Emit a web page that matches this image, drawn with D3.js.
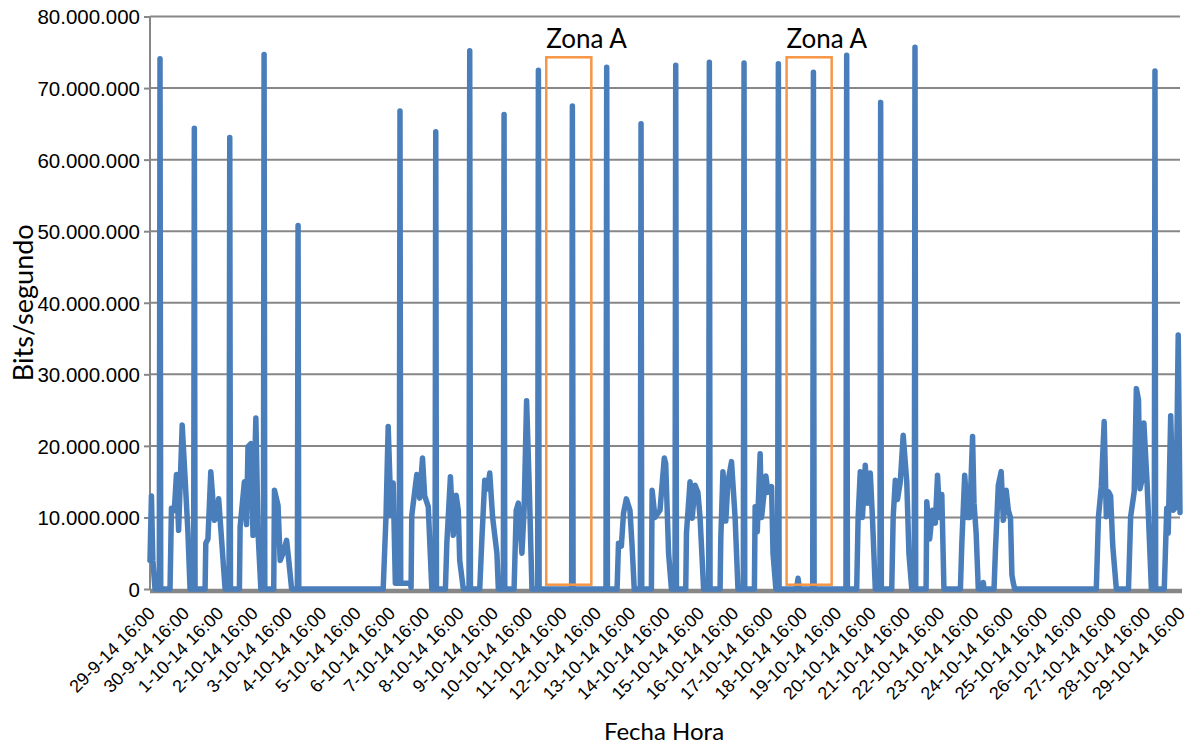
<!DOCTYPE html>
<html>
<head>
<meta charset="utf-8">
<script src="https://cdn.jsdelivr.net/npm/d3@7"></script>
<style>
  html, body { margin: 0; padding: 0; background: #fff; }
  svg { display: block; font-family: Lato, "Open Sans", sans-serif; }
</style>
</head>
<body>
<svg id="chart" width="1190" height="747"></svg>
<script>
// Etiquetas del eje X (una por día, a las 16:00)
const etiquetasX = [
  "29-9-14 16:00", "30-9-14 16:00", "1-10-14 16:00", "2-10-14 16:00", "3-10-14 16:00",
  "4-10-14 16:00", "5-10-14 16:00", "6-10-14 16:00", "7-10-14 16:00", "8-10-14 16:00",
  "9-10-14 16:00", "10-10-14 16:00", "11-10-14 16:00", "12-10-14 16:00", "13-10-14 16:00",
  "14-10-14 16:00", "15-10-14 16:00", "16-10-14 16:00", "17-10-14 16:00", "18-10-14 16:00",
  "19-10-14 16:00", "20-10-14 16:00", "21-10-14 16:00", "22-10-14 16:00", "23-10-14 16:00",
  "24-10-14 16:00", "25-10-14 16:00", "26-10-14 16:00", "27-10-14 16:00", "28-10-14 16:00",
  "29-10-14 16:00"
];

// Marcas del eje Y, en millones de bits/segundo
const valoresY = [0, 10, 20, 30, 40, 50, 60, 70, 80];

// Tráfico medido: [día-mes hora, millones de bits/segundo]
const semana1 = [
  ["29-9 16:00", 4], ["29-9 17:00", 13], ["29-9 18:00", 4], ["29-9 19:30", 0],
  ["29-9 22:30", 0], ["29-9 23:00", 74.1], ["29-9 23:30", 0],
  ["30-9 06:00", 0], ["30-9 07:00", 11.3], ["30-9 09:00", 11], ["30-9 10:30", 16], ["30-9 12:00", 8.2],
  ["30-9 14:30", 22.9], ["30-9 16:30", 15.6], ["30-9 18:30", 8], ["30-9 20:00", 0],
  ["30-9 22:30", 0], ["30-9 23:00", 64.4], ["30-9 23:30", 0],
  ["1-10 06:30", 0], ["1-10 07:00", 6.4], ["1-10 08:30", 7], ["1-10 10:30", 16.4], ["1-10 13:00", 9.6],
  ["1-10 14:30", 10], ["1-10 16:00", 12.6], ["1-10 18:00", 7], ["1-10 20:30", 0],
  ["1-10 23:15", 0], ["1-10 23:45", 63.1], ["2-10 00:15", 0],
  ["2-10 06:30", 0], ["2-10 07:00", 8.7], ["2-10 10:00", 15], ["2-10 11:30", 9], ["2-10 12:30", 19.9],
  ["2-10 14:30", 20.3], ["2-10 16:00", 7.5], ["2-10 18:00", 23.9], ["2-10 19:30", 8], ["2-10 21:30", 0],
  ["2-10 23:15", 0], ["2-10 23:45", 74.7], ["3-10 00:15", 0],
  ["3-10 06:30", 0], ["3-10 07:00", 13.8], ["3-10 09:30", 11.7], ["3-10 11:00", 4], ["3-10 13:00", 5],
  ["3-10 15:30", 6.8], ["3-10 17:00", 4], ["3-10 19:00", 0],
  ["3-10 23:00", 0], ["3-10 23:30", 50.8], ["4-10 00:00", 0]
];

const semana2 = [
  ["6-10 11:00", 0], ["6-10 13:00", 10.3], ["6-10 14:30", 22.7], ["6-10 16:30", 10.3], ["6-10 18:00", 14.8],
  ["6-10 19:30", 0.8], ["6-10 22:15", 0.8], ["6-10 22:45", 66.8], ["6-10 23:15", 0.8],
  ["7-10 06:00", 0.8], ["7-10 06:30", 0.2], ["7-10 07:00", 10.3], ["7-10 10:30", 16], ["7-10 12:30", 12.7],
  ["7-10 14:30", 18.3], ["7-10 16:00", 13], ["7-10 18:30", 11.5], ["7-10 21:00", 0],
  ["7-10 23:15", 0], ["7-10 23:45", 63.9], ["8-10 00:15", 0],
  ["8-10 06:30", 0], ["8-10 07:30", 6.4], ["8-10 10:00", 15.7], ["8-10 12:00", 7.5], ["8-10 14:00", 13.1],
  ["8-10 15:30", 11], ["8-10 16:30", 4], ["8-10 19:00", 0],
  ["8-10 23:00", 0], ["8-10 23:30", 75.2], ["9-10 00:00", 0],
  ["9-10 06:30", 0], ["9-10 08:00", 7], ["9-10 10:00", 15.2], ["9-10 12:00", 14], ["9-10 13:30", 16.2],
  ["9-10 15:30", 10], ["9-10 18:30", 5], ["9-10 19:30", 0],
  ["9-10 23:00", 0], ["9-10 23:30", 66.3], ["10-10 00:00", 0],
  ["10-10 06:30", 0], ["10-10 08:00", 11], ["10-10 09:30", 12], ["10-10 12:00", 5], ["10-10 13:30", 11],
  ["10-10 15:15", 26.3], ["10-10 17:00", 15], ["10-10 19:00", 0],
  ["10-10 23:00", 0], ["10-10 23:30", 72.5], ["11-10 00:00", 0],
  ["11-10 22:45", 0], ["11-10 23:15", 67.5], ["11-10 23:45", 0],
  ["12-10 22:45", 0], ["12-10 23:15", 72.9], ["12-10 23:45", 0]
];

const semana3 = [
  ["13-10 06:30", 0], ["13-10 07:30", 6.4], ["13-10 09:30", 6], ["13-10 11:00", 10.6], ["13-10 13:00", 12.6],
  ["13-10 15:30", 11], ["13-10 17:00", 6], ["13-10 18:30", 0],
  ["13-10 22:45", 0], ["13-10 23:15", 65], ["13-10 23:45", 0],
  ["14-10 06:30", 0], ["14-10 07:00", 13.8], ["14-10 09:00", 10], ["14-10 12:30", 11], ["14-10 15:30", 18.3],
  ["14-10 16:30", 17.5], ["14-10 18:30", 5], ["14-10 20:30", 0],
  ["14-10 23:00", 0], ["14-10 23:30", 73.2], ["15-10 00:00", 0],
  ["15-10 06:30", 0], ["15-10 07:00", 7.8], ["15-10 09:30", 15], ["15-10 11:00", 9.9], ["15-10 13:00", 14.5],
  ["15-10 15:00", 13.5], ["15-10 16:30", 10], ["15-10 19:00", 0],
  ["15-10 22:30", 0], ["15-10 23:00", 73.6], ["15-10 23:30", 0],
  ["16-10 06:30", 0], ["16-10 07:00", 7], ["16-10 08:30", 16.4], ["16-10 10:30", 9.5], ["16-10 12:00", 15],
  ["16-10 14:30", 17.8], ["16-10 17:00", 10], ["16-10 19:00", 0],
  ["16-10 22:45", 0], ["16-10 23:15", 73.5], ["16-10 23:45", 0],
  ["17-10 06:30", 0], ["17-10 07:00", 11.5], ["17-10 08:30", 8], ["17-10 10:30", 18.9], ["17-10 11:30", 10],
  ["17-10 14:30", 15.8], ["17-10 16:00", 13.5], ["17-10 18:30", 14.3], ["17-10 19:30", 5], ["17-10 21:30", 0],
  ["17-10 22:45", 0], ["17-10 23:15", 73.4], ["17-10 23:45", 0],
  ["18-10 12:00", 0], ["18-10 13:00", 1.5], ["18-10 14:00", 0],
  ["18-10 23:15", 0], ["18-10 23:45", 72.2], ["19-10 00:15", 0],
  ["19-10 22:30", 0], ["19-10 23:00", 74.6], ["19-10 23:30", 0]
];

const semana4 = [
  ["20-10 06:00", 0], ["20-10 07:00", 10], ["20-10 08:30", 16.4], ["20-10 10:00", 10], ["20-10 12:00", 17.3],
  ["20-10 13:30", 12], ["20-10 15:30", 16.2], ["20-10 17:00", 10], ["20-10 19:00", 0],
  ["20-10 22:15", 0], ["20-10 22:45", 68], ["20-10 23:15", 0],
  ["21-10 06:30", 0], ["21-10 07:30", 10], ["21-10 09:00", 15.2], ["21-10 10:30", 12.5], ["21-10 12:30", 15],
  ["21-10 14:30", 21.5], ["21-10 17:00", 15], ["21-10 18:30", 5], ["21-10 20:30", 0],
  ["21-10 22:15", 0], ["21-10 22:45", 75.7], ["21-10 23:15", 0],
  ["22-10 06:30", 0], ["22-10 07:00", 12.2], ["22-10 09:00", 7], ["22-10 11:00", 11], ["22-10 13:00", 9.2],
  ["22-10 14:30", 15.9], ["22-10 16:00", 10], ["22-10 17:30", 13.2], ["22-10 19:00", 0],
  ["23-10 06:30", 0], ["23-10 07:30", 6.4], ["23-10 09:30", 15.9], ["23-10 11:30", 10], ["23-10 13:00", 10],
  ["23-10 15:00", 21.3], ["23-10 16:00", 12], ["23-10 17:30", 7.8], ["23-10 19:00", 0],
  ["23-10 22:00", 0], ["23-10 22:30", 0.9], ["23-10 23:00", 0],
  ["24-10 06:00", 0], ["24-10 07:00", 5.5], ["24-10 09:00", 14.5], ["24-10 11:00", 16.4], ["24-10 12:30", 9.6],
  ["24-10 14:30", 13.8], ["24-10 16:00", 11], ["24-10 17:30", 10], ["24-10 18:30", 2], ["24-10 19:30", 0.8],
  ["24-10 20:30", 0]
];

const semana5 = [
  ["27-10 05:30", 0], ["27-10 07:00", 10.1], ["27-10 09:00", 14.3], ["27-10 11:00", 23.4], ["27-10 12:30", 10.1],
  ["27-10 14:00", 13.6], ["27-10 15:30", 13], ["27-10 17:00", 6], ["27-10 19:30", 0],
  ["28-10 04:00", 0], ["28-10 05:30", 10.1], ["28-10 08:00", 13.6], ["28-10 09:30", 28], ["28-10 11:00", 26.4],
  ["28-10 12:00", 14], ["28-10 13:30", 15.3], ["28-10 14:45", 23.2], ["28-10 17:00", 14.8], ["28-10 20:00", 0],
  ["28-10 22:00", 0], ["28-10 22:30", 72.4], ["28-10 23:00", 0],
  ["29-10 05:00", 0], ["29-10 06:45", 11.3], ["29-10 07:45", 7.8], ["29-10 09:30", 24.2], ["29-10 11:15", 11],
  ["29-10 13:15", 11.5], ["29-10 14:45", 35.5], ["29-10 16:00", 10.7]
];

// Zonas resaltadas (intervalo de tiempo y rango de tráfico)
const zonas = [
  { nombre: "Zona A", desde: "11-10 05:00", hasta: "12-10 12:30", min: 0.6, max: 74.3 },
  { nombre: "Zona A", desde: "18-10 05:00", hasta: "19-10 12:30", min: 0.6, max: 74.3 }
];

(function dibujar() {
  const svg = d3.select("#chart");
  const margenIzq = 150, margenDer = 1180, margenSup = 16.5, margenInf = 589;

  const parseEtiqueta = d3.utcParse("%d-%m-%y %H:%M");
  const parseMuestra = d3.utcParse("%d-%m-%Y %H:%M");
  const aFecha = s => parseMuestra(s.replace(" ", "-2014 "));

  const fechasX = etiquetasX.map(parseEtiqueta);
  const serie = [...semana1, ...semana2, ...semana3, ...semana4, ...semana5]
    .map(([f, v]) => ({ t: aFecha(f), v }));

  const x = d3.scaleUtc()
    .domain([fechasX[0], fechasX[fechasX.length - 1]])
    .range([margenIzq, margenDer]);
  const y = d3.scaleLinear().domain([0, 80]).range([margenInf, margenSup]);

  const formatoMiles = d3.formatLocale({
    decimal: ",", thousands: ".", grouping: [3], currency: ["", ""]
  }).format(",d");

  const gris = "#878787";

  // Líneas de división horizontales
  svg.append("g")
    .selectAll("line")
    .data(valoresY.filter(v => v > 0))
    .join("line")
    .attr("x1", margenIzq).attr("x2", margenDer)
    .attr("y1", d => y(d)).attr("y2", d => y(d))
    .attr("stroke", gris).attr("stroke-width", 2);

  // Eje Y
  const ejeY = svg.append("g")
    .attr("transform", `translate(${margenIzq},0)`)
    .call(d3.axisLeft(y).tickValues(valoresY).tickSize(6).tickPadding(4)
      .tickFormat(d => formatoMiles(d * 1e6)));
  ejeY.select(".domain").attr("stroke", gris).attr("stroke-width", 2)
    .attr("d", `M0,${y(0)}V${y(80)}`);
  ejeY.selectAll(".tick line").attr("stroke", gris).attr("stroke-width", 2);
  ejeY.selectAll(".tick text")
    .attr("fill", "#000").style("font-size", "20.5px").attr("dy", "0.36em");

  // Eje X
  const ejeX = svg.append("g")
    .attr("transform", `translate(0,${margenInf})`)
    .call(d3.axisBottom(x).tickValues(fechasX).tickSize(0)
      .tickFormat((d, i) => etiquetasX[i]));
  ejeX.select(".domain").attr("stroke", gris).attr("stroke-width", 4.5)
    .attr("d", `M${margenIzq},2H${margenDer + 2}`);
  ejeX.selectAll(".tick text")
    .attr("fill", "#000")
    .style("font-size", "18px")
    .attr("text-anchor", "end")
    .attr("y", 0).attr("dy", "0.35em")
    .attr("transform", "translate(1,21) rotate(-45)");

  // Serie de tráfico
  const linea = d3.line().x(d => x(d.t)).y(d => y(d.v));
  svg.append("path")
    .datum(serie)
    .attr("d", linea)
    .attr("fill", "none")
    .attr("stroke", "#4a7ebb")
    .attr("stroke-width", 5.5)
    .attr("stroke-linejoin", "round")
    .attr("stroke-linecap", "round");

  // Zonas resaltadas
  const gz = svg.append("g");
  zonas.forEach(z => {
    const x0 = x(aFecha(z.desde)), x1 = x(aFecha(z.hasta));
    gz.append("rect")
      .attr("x", x0).attr("y", y(z.max))
      .attr("width", x1 - x0).attr("height", y(z.min) - y(z.max))
      .attr("fill", "none").attr("stroke", "#f79646").attr("stroke-width", 2.5);
    gz.append("text")
      .attr("x", x0).attr("y", y(z.max) - 9)
      .style("font-size", "26px").attr("fill", "#000")
      .text(z.nombre);
  });

  // Títulos de los ejes
  svg.append("text")
    .attr("transform", `translate(33,${(margenSup + margenInf) / 2}) rotate(-90)`)
    .attr("text-anchor", "middle")
    .style("font-size", "27px").attr("fill", "#000")
    .text("Bits/segundo");

  svg.append("text")
    .attr("x", 664).attr("y", 740)
    .attr("text-anchor", "middle")
    .style("font-size", "24px").attr("fill", "#000")
    .text("Fecha Hora");
})();
</script>
</body>
</html>
